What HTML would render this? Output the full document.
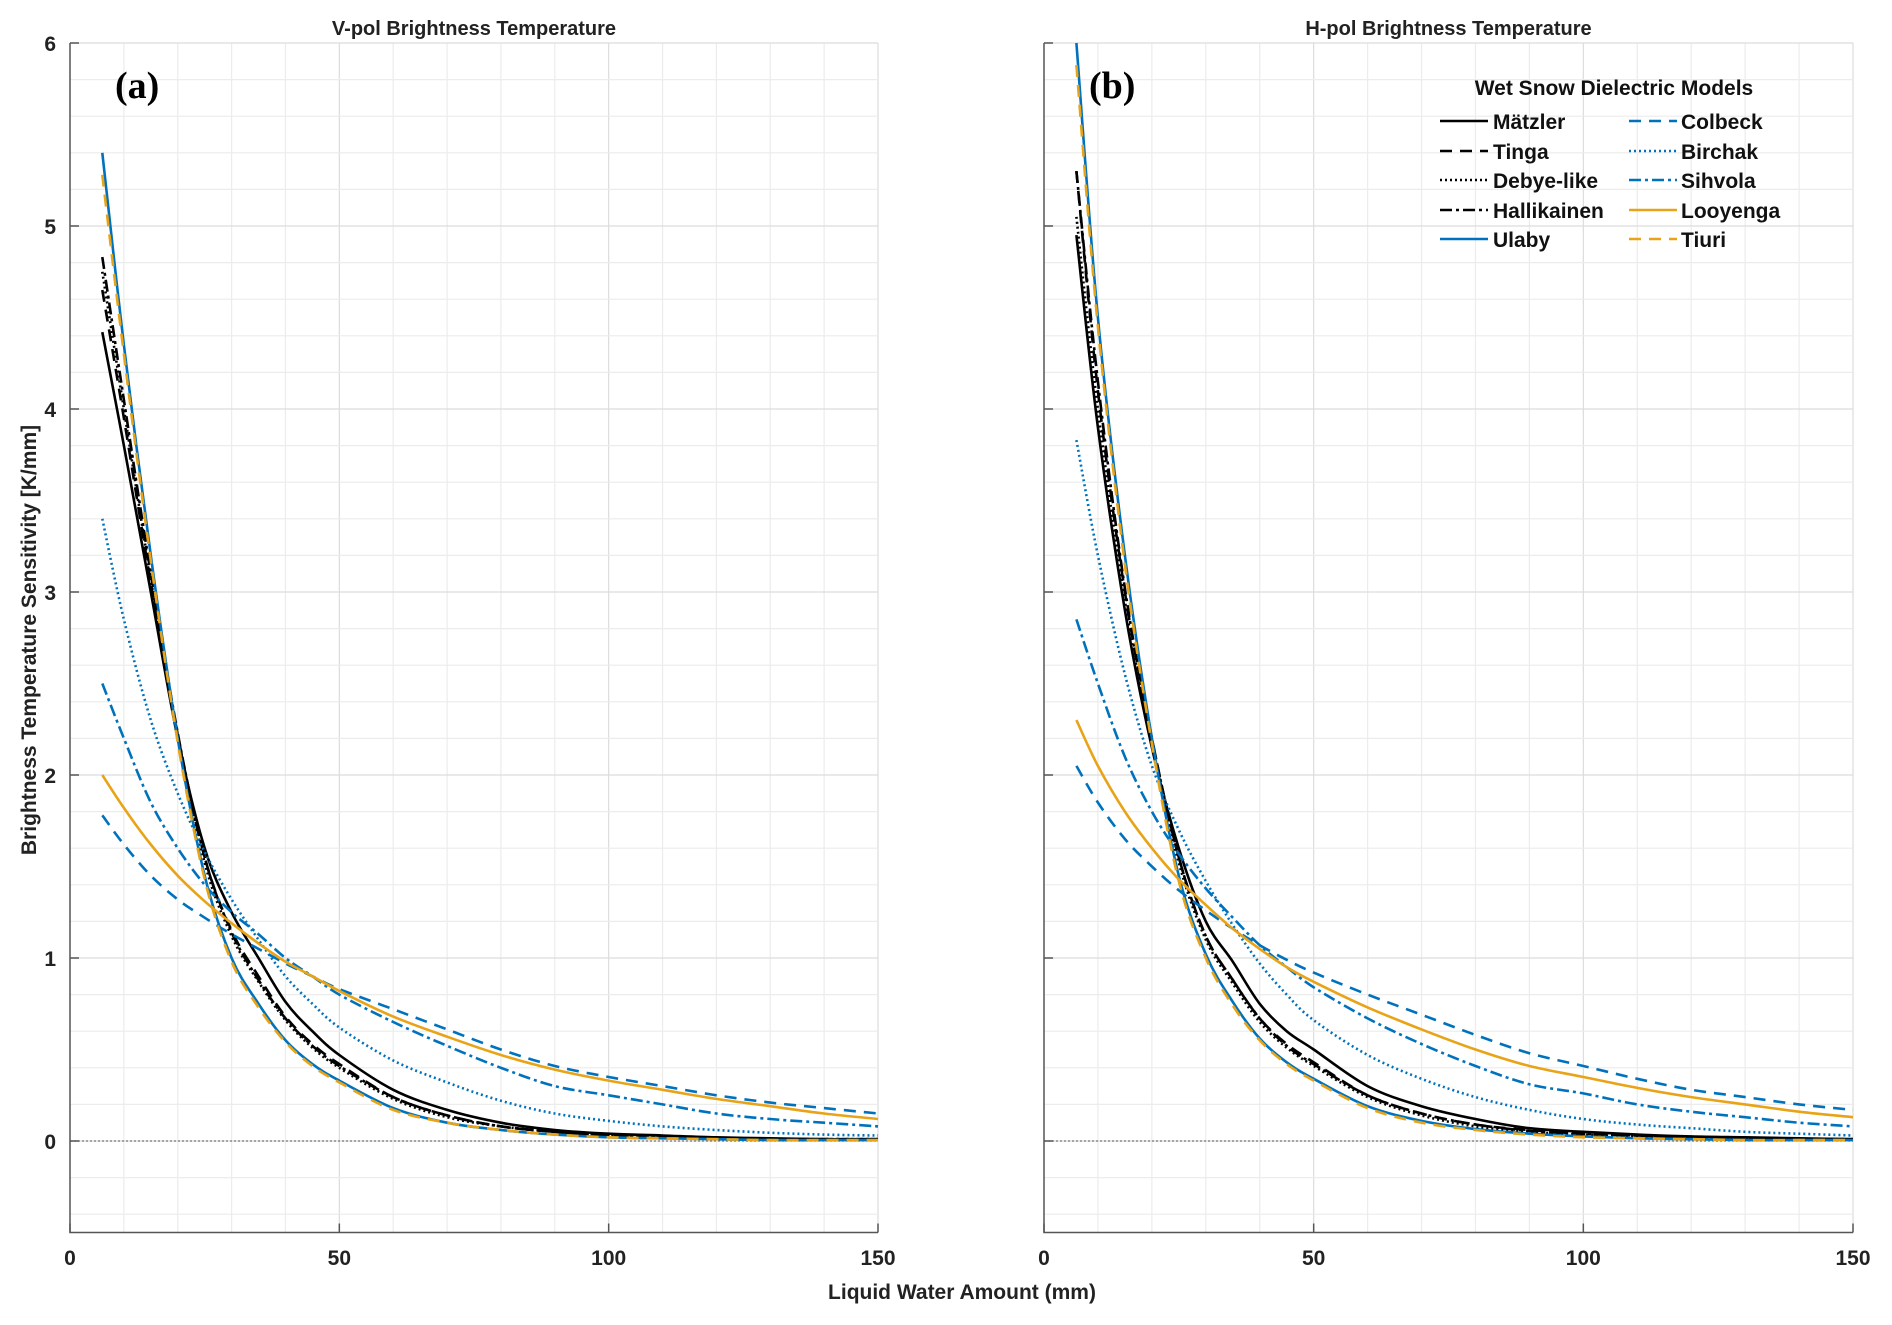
<!DOCTYPE html>
<html><head><meta charset="utf-8">
<style>
body{margin:0;background:#fff;}
svg{display:block;font-family:"Liberation Sans",sans-serif;}
</style></head>
<body>
<svg id="chart" width="1892" height="1325" viewBox="0 0 1892 1325" xmlns="http://www.w3.org/2000/svg"></svg>
<script>
const xs = [6,10,15,20,25,30,35,40,45,50,60,70,80,90,100,110,120,130,140,150];
const seriesNames = ["Mätzler","Tinga","Debye-like","Hallikainen","Ulaby","Colbeck","Birchak","Sihvola","Looyenga","Tiuri"];
const vMatzler = [4.42,3.8,3.0,2.2,1.6,1.25,1.0,0.76,0.6,0.47,0.28,0.17,0.1,0.06,0.04,0.03,0.02,0.015,0.01,0.01];
const vTinga   = [4.65,3.95,3.05,2.22,1.55,1.15,0.9,0.68,0.53,0.42,0.24,0.14,0.08,0.05,0.03,0.02,0.015,0.01,0.01,0.01];
const vDebye   = [4.75,4.0,3.07,2.22,1.52,1.12,0.87,0.66,0.51,0.4,0.23,0.13,0.08,0.05,0.03,0.02,0.015,0.01,0.01,0.01];
const vHalli   = [4.83,4.05,3.1,2.23,1.55,1.14,0.88,0.67,0.52,0.41,0.24,0.14,0.08,0.05,0.03,0.02,0.015,0.01,0.01,0.01];
const vUlaby   = [5.4,4.35,3.2,2.2,1.45,1.0,0.75,0.55,0.42,0.33,0.18,0.1,0.06,0.035,0.02,0.015,0.01,0.005,0.005,0.005];
const vColbeck = [1.78,1.62,1.45,1.32,1.22,1.13,1.05,0.97,0.9,0.83,0.72,0.61,0.5,0.41,0.35,0.3,0.25,0.21,0.18,0.15];
const vBirchak = [3.4,2.85,2.3,1.9,1.58,1.32,1.1,0.9,0.75,0.62,0.44,0.32,0.22,0.15,0.11,0.08,0.06,0.045,0.035,0.03];
const vSihvola = [2.5,2.2,1.85,1.6,1.4,1.25,1.13,1.0,0.9,0.8,0.65,0.52,0.4,0.3,0.25,0.2,0.15,0.12,0.1,0.08];
const vLooyenga= [2.0,1.82,1.62,1.45,1.31,1.19,1.08,0.98,0.9,0.82,0.68,0.57,0.47,0.39,0.33,0.28,0.23,0.19,0.15,0.12];
const vTiuri   = [5.28,4.3,3.17,2.18,1.43,0.98,0.73,0.54,0.41,0.32,0.17,0.1,0.06,0.035,0.02,0.015,0.01,0.005,0.005,0.005];
const hMatzler = [4.95,3.9,2.9,2.15,1.6,1.2,0.98,0.75,0.6,0.5,0.3,0.19,0.12,0.07,0.05,0.035,0.025,0.02,0.015,0.01];
const hTinga   = [5.3,4.1,3.0,2.2,1.55,1.12,0.88,0.67,0.53,0.43,0.25,0.15,0.09,0.06,0.04,0.03,0.02,0.015,0.01,0.01];
const hDebye   = [5.05,4.0,2.95,2.17,1.52,1.1,0.86,0.65,0.51,0.41,0.24,0.14,0.08,0.05,0.035,0.025,0.02,0.015,0.01,0.01];
const hHalli   = [5.3,4.15,3.02,2.2,1.55,1.12,0.88,0.67,0.52,0.42,0.25,0.15,0.09,0.055,0.04,0.03,0.02,0.015,0.01,0.01];
const hUlaby   = [6.0,4.5,3.2,2.2,1.45,1.02,0.76,0.56,0.43,0.34,0.19,0.11,0.065,0.04,0.025,0.015,0.01,0.005,0.005,0.005];
const hColbeck = [2.05,1.85,1.65,1.5,1.37,1.26,1.16,1.07,0.99,0.92,0.8,0.69,0.58,0.48,0.41,0.34,0.28,0.24,0.2,0.17];
const hBirchak = [3.83,3.2,2.55,2.05,1.7,1.42,1.18,0.97,0.8,0.66,0.47,0.34,0.24,0.17,0.12,0.09,0.07,0.05,0.04,0.03];
const hSihvola = [2.85,2.5,2.1,1.8,1.57,1.38,1.22,1.07,0.95,0.84,0.67,0.53,0.41,0.31,0.26,0.2,0.16,0.13,0.1,0.08];
const hLooyenga= [2.3,2.05,1.8,1.6,1.43,1.29,1.16,1.05,0.95,0.87,0.73,0.61,0.5,0.41,0.35,0.29,0.24,0.2,0.16,0.13];
const hTiuri   = [5.88,4.45,3.15,2.17,1.42,1.0,0.74,0.55,0.42,0.33,0.18,0.1,0.06,0.035,0.02,0.015,0.01,0.005,0.005,0.005];
const xTicks = [0,50,100,150];
const yTicks = [0,1,2,3,4,5,6];

const vSeries=[vMatzler,vTinga,vDebye,vHalli,vUlaby,vColbeck,vBirchak,vSihvola,vLooyenga,vTiuri];
const hSeries=[hMatzler,hTinga,hDebye,hHalli,hUlaby,hColbeck,hBirchak,hSihvola,hLooyenga,hTiuri];
const BLK="#000",BLU="#0072bd",ORG="#e8a317";
const styles=[
 {c:BLK,d:""},{c:BLK,d:"12 8"},{c:BLK,d:"2 3"},{c:BLK,d:"12 4 3 4"},{c:BLU,d:""},
 {c:BLU,d:"12 8"},{c:BLU,d:"2 3"},{c:BLU,d:"12 4 3 4"},{c:ORG,d:""},{c:ORG,d:"12 8"}];
const NS="http://www.w3.org/2000/svg";
const svg=document.getElementById('chart');
function el(tag,attrs,parent){const e=document.createElementNS(NS,tag);for(const k in attrs)e.setAttribute(k,attrs[k]);(parent||svg).appendChild(e);return e;}
function txt(s,attrs,parent){const e=el('text',attrs,parent);e.textContent=s;return e;}
function smooth(P){
  let d=`M${P[0][0].toFixed(1)},${P[0][1].toFixed(1)}`;
  for(let i=0;i<P.length-1;i++){
    const p0=P[Math.max(0,i-1)],p1=P[i],p2=P[i+1],p3=P[Math.min(P.length-1,i+2)];
    const c1=[p1[0]+(p2[0]-p0[0])/6,p1[1]+(p2[1]-p0[1])/6];
    const c2=[p2[0]-(p3[0]-p1[0])/6,p2[1]-(p3[1]-p1[1])/6];
    d+=`C${c1[0].toFixed(1)},${c1[1].toFixed(1)} ${c2[0].toFixed(1)},${c2[1].toFixed(1)} ${p2[0].toFixed(1)},${p2[1].toFixed(1)}`;
  }
  return d;
}

const Y0=1141,YU=183,YMIN=-0.5,YMAX=6;
function ys(v){return Y0-v*YU;}
function panel(x0,x1,data,title,lab,showY,name){
  const g=el('g',{});
  
  
  const xsF=v=>x0+(x1-x0)*v/150;
  for(let x=10;x<=150;x+=10){const l=el('line',{x1:xsF(x),x2:xsF(x),y1:ys(YMAX),y2:ys(YMIN),stroke:x%50==0?'#dcdcdc':'#ececec','stroke-width':1.2},g);}
  for(let i=-2;i<=30;i++){const v=i*0.2;const l=el('line',{x1:x0,x2:x1,y1:ys(v),y2:ys(v),stroke:Math.abs(v-Math.round(v))<1e-6?'#dcdcdc':'#ececec','stroke-width':1.2},g);}
  const zl=el('line',{x1:x0,x2:x1,y1:ys(0),y2:ys(0),stroke:'#777','stroke-width':1.2,'stroke-dasharray':'2 2'},g);
  
  const ax=el('path',{d:`M${x0},${ys(YMAX)}V${ys(YMIN)}H${x1}`,fill:'none',stroke:'#555','stroke-width':1.5},g);
  
  xTicks.forEach(t=>{el('line',{x1:xsF(t),x2:xsF(t),y1:ys(YMIN),y2:ys(YMIN)-9,stroke:'#555','stroke-width':1.5},g);
    const tl=txt(String(t),{x:xsF(t),y:1265,'text-anchor':'middle','font-size':21,'font-weight':'bold',fill:'#222'},g);
    });
  yTicks.forEach(t=>{el('line',{x1:x0,x2:x0+9,y1:ys(t),y2:ys(t),stroke:'#555','stroke-width':1.5},g);
    if(showY){const tl=txt(String(t),{x:x0-14,y:ys(t)+8,'text-anchor':'end','font-size':21,'font-weight':'bold',fill:'#222'},g);
    }});
  const tt=txt(title,{x:(x0+x1)/2,y:35,'text-anchor':'middle','font-size':20,'font-weight':'bold',fill:'#222'},g);
  
  const pl=txt(lab,{x:x0+45,y:98,'font-size':38,'font-weight':'bold','font-family':'Liberation Serif, serif',fill:'#000'},g);
  
  data.forEach((arr,i)=>{
    const P=arr.map((v,j)=>[xsF(xs[j]),ys(v)]);
    const p=el('path',{d:smooth(P),fill:'none',stroke:styles[i].c,'stroke-width':2.6,'stroke-dasharray':styles[i].d,'stroke-linejoin':'round'},g);
    
    
  });
}
panel(70,878,vSeries,'V-pol Brightness Temperature','(a)',true,'v-pol-panel');
panel(1044,1853,hSeries,'H-pol Brightness Temperature','(b)',false,'h-pol-panel');

const xl=txt('Liquid Water Amount (mm)',{x:962,y:1299,'text-anchor':'middle','font-size':21,'font-weight':'bold',fill:'#222'});

const yl=txt('Brightness Temperature Sensitivity [K/mm]',{x:0,y:0,transform:'translate(36,640) rotate(-90)','text-anchor':'middle','font-size':21,'font-weight':'bold',fill:'#222'});


const lg=el('g',{});


const lt=txt('Wet Snow Dielectric Models',{x:1614,y:95,'text-anchor':'middle','font-size':21,'font-weight':'bold',fill:'#111'},lg);

const rowsY=[121,151,180,210,239];
seriesNames.forEach((n,i)=>{
  const col=i<5?0:1,row=i%5;
  const lx=col?1629:1440,tx=col?1681:1493,y=rowsY[row];
  el('line',{x1:lx,x2:lx+48,y1:y,y2:y,stroke:styles[i].c,'stroke-width':2.6,'stroke-dasharray':styles[i].d},lg);
  const t=txt(n,{x:tx,y:y+8,'font-size':21,'font-weight':'bold',fill:'#111'},lg);
  
  
});
</script>
</body></html>
